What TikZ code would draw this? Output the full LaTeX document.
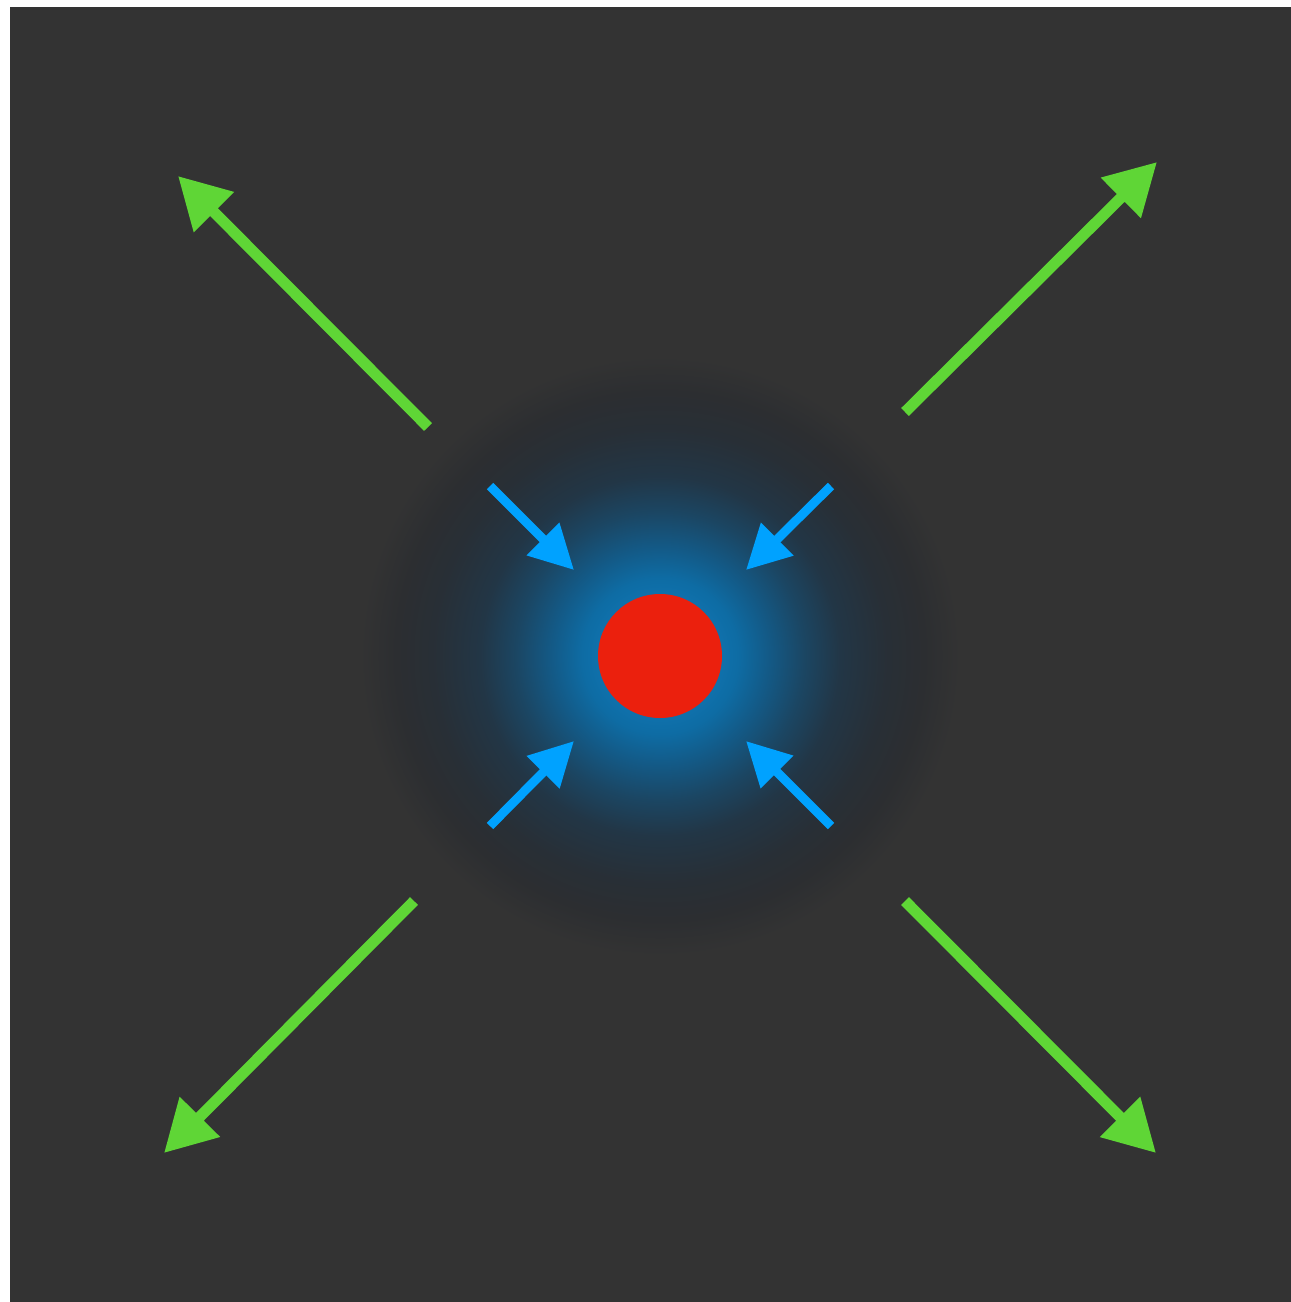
\documentclass[tikz,border=0pt]{standalone}
\usetikzlibrary{arrows.meta}
\definecolor{bg}{HTML}{333333}
\definecolor{dotred}{HTML}{EB200D}
\definecolor{inblue}{HTML}{00A2FF}
\definecolor{outgreen}{HTML}{5FD636}
\definecolor{g0}{HTML}{1283C6}
\definecolor{g1}{HTML}{0F71AC}
\definecolor{g2}{HTML}{0E6CA4}
\definecolor{g3}{HTML}{135A87}
\definecolor{g4}{HTML}{1B4663}
\definecolor{g5}{HTML}{223646}
\definecolor{g6}{HTML}{282F36}
\definecolor{g7}{HTML}{2C2E31}
\pgfdeclareradialshading{glow}{\pgfpoint{0bp}{0bp}}{color(0bp)=(g0); color(5bp)=(g1); color(6.5bp)=(g2); color(9bp)=(g3); color(12bp)=(g4); color(15bp)=(g5); color(19bp)=(g6); color(22bp)=(g7); color(25bp)=(bg); color(50bp)=(bg)}
\tikzset{
  outarrow/.style={draw=outgreen, line width=11pt, -{Triangle[length=51pt,width=54pt]}},
  inarrow/.style={draw=inblue, line width=9pt, -{Triangle[length=44pt,width=44pt]}}
}
\begin{document}
\begin{tikzpicture}[x=1pt,y=-1pt]
\useasboundingbox (0,0) rectangle (1291,1302);
\fill[white] (0,0) rectangle (1291,1302);
\fill[bg] (10,7) rectangle (1291,1302);
\shade[shading=glow] (660,656) circle (300);
\node[circle, fill=dotred, minimum size=124pt, inner sep=0pt] (dot) at (660,656) {};
% green arrows
\coordinate (gtlA) at (428,427); \coordinate (gtlB) at (178,176);
\coordinate (gtrA) at (905,412); \coordinate (gtrB) at (1157,162);
\coordinate (gblA) at (414,901); \coordinate (gblB) at (164,1153);
\coordinate (gbrA) at (905,901); \coordinate (gbrB) at (1156,1153);
\draw[outarrow] (gtlA) -- (gtlB);
\draw[outarrow] (gtrA) -- (gtrB);
\draw[outarrow] (gblA) -- (gblB);
\draw[outarrow] (gbrA) -- (gbrB);
% blue arrows
\coordinate (btlA) at (490,486); \coordinate (btlB) at (574,570);
\coordinate (btrA) at (831,486); \coordinate (btrB) at (746,570);
\coordinate (bblA) at (490,826); \coordinate (bblB) at (574,741);
\coordinate (bbrA) at (831,826); \coordinate (bbrB) at (746,741);
\draw[inarrow] (btlA) -- (btlB);
\draw[inarrow] (btrA) -- (btrB);
\draw[inarrow] (bblA) -- (bblB);
\draw[inarrow] (bbrA) -- (bbrB);
\end{tikzpicture}
\end{document}
